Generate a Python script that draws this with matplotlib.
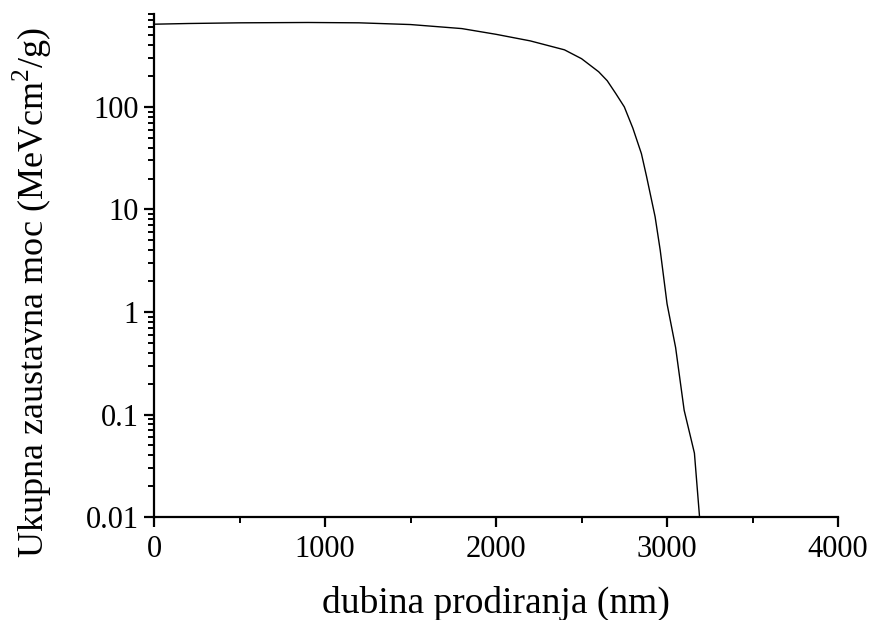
import matplotlib
matplotlib.use("Agg")
import matplotlib.pyplot as plt
from matplotlib.ticker import LogLocator, FixedLocator, MultipleLocator, NullFormatter

depth_nm = [0, 200, 500, 900, 1200, 1500, 1800, 2000, 2200, 2400, 2500, 2600,
            2650, 2700, 2750, 2800, 2850, 2880, 2930, 2960, 3000, 3050, 3100,
            3140, 3160, 3190]
stopping = [640, 650, 660, 665, 660, 635, 580, 510, 440, 360, 295, 220,
            180, 135, 100, 62, 35, 21, 8.5, 4.0, 1.2, 0.45, 0.11,
            0.058, 0.042, 0.01]

yticks = [0.01, 0.1, 1, 10, 100]
ytick_labels = ["0.01", "0.1", "1", "10", "100"]
xticks = [0, 1000, 2000, 3000, 4000]

plt.rcParams['font.family'] = ['Liberation Serif', 'DejaVu Serif']
plt.rcParams['mathtext.fontset'] = 'custom'
plt.rcParams['mathtext.rm'] = 'Liberation Serif'

fig = plt.figure(figsize=(8.73, 6.2), dpi=100)
ax = fig.add_axes([0.1764, 0.166, 0.7836, 0.811])
ax.plot(depth_nm, stopping, color='black', lw=1.0)
ax.set_yscale('log')
ax.set_xlim(0, 4000)
ax.set_ylim(0.01, 800)

ax.spines['top'].set_visible(False)
ax.spines['right'].set_visible(False)
for s in ('left', 'bottom'):
    ax.spines[s].set_linewidth(1.6)

ax.xaxis.set_major_locator(FixedLocator(xticks))
ax.xaxis.set_minor_locator(MultipleLocator(500))
ax.yaxis.set_major_locator(FixedLocator(yticks))
ax.set_yticklabels(ytick_labels)
ax.yaxis.set_minor_locator(LogLocator(base=10, subs=range(2, 10), numticks=20))
ax.yaxis.set_minor_formatter(NullFormatter())

ax.tick_params(which='major', direction='out', length=7, width=1.6, labelsize=22)
ax.tick_params(axis='x', which='major', pad=6)
ax.tick_params(axis='y', which='major', pad=4)
ax.tick_params(which='minor', direction='out', length=4, width=1.4)

ax.set_xlabel("dubina prodiranja (nm)", fontsize=27)
ax.set_ylabel("Ukupna zaustavna moc (MeVcm$^2$/g)", fontsize=26)
ax.xaxis.set_label_coords(0.5, -0.137)
ax.yaxis.set_label_coords(-0.146, 0.447)

fig.savefig("out.png", dpi=100)
